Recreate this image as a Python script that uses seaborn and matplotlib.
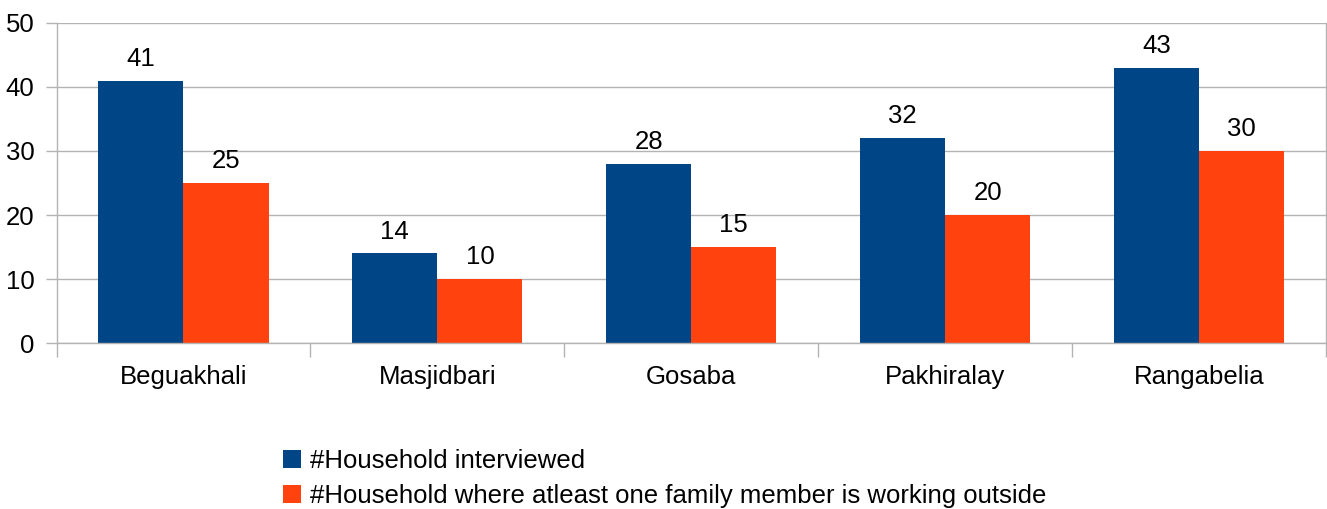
import matplotlib
matplotlib.use("Agg")
import matplotlib.pyplot as plt
import seaborn as sns
import pandas as pd
import numpy as np

categories = ["Beguakhali", "Masjidbari", "Gosaba", "Pakhiralay", "Rangabelia"]
interviewed = [41, 14, 28, 32, 43]
working_outside = [25, 10, 15, 20, 30]
series_names = ["#Household interviewed",
                "#Household where atleast one family member is working outside"]
colors = ["#004586", "#ff420e"]

df = pd.DataFrame({
    "Village": categories * 2,
    "Series": [series_names[0]] * len(categories) + [series_names[1]] * len(categories),
    "Value": interviewed + working_outside,
})

sns.set_theme(style="white")
plt.rcParams["font.family"] = ["Liberation Sans", "DejaVu Sans"]
plt.rcParams["text.color"] = "#000000"
FS = 18.5

fig = plt.figure(figsize=(13.27, 5.09), dpi=100)
ax = fig.add_axes([0.0426, 0.326, 0.9566, 0.629])

sns.barplot(data=df, x="Village", y="Value", hue="Series", palette=colors,
            width=0.67, gap=0, saturation=1, ax=ax, legend=True, linewidth=0)

for c in ax.containers:
    ax.bar_label(c, fmt="%d", padding=7, fontsize=FS, color="#000000")

ax.set_ylim(0, 50)
ax.set_xlim(-0.5, len(categories) - 0.5)
ax.set_yticks(range(0, 51, 10))
ax.yaxis.grid(True, color="#b3b3b3", linewidth=1)
ax.set_axisbelow(True)
ax.set_xlabel("")
ax.set_ylabel("")

ax.spines["top"].set_visible(False)
for s in ["left", "bottom", "right"]:
    ax.spines[s].set_color("#b3b3b3")
    ax.spines[s].set_linewidth(1)

ax.tick_params(axis="y", which="major", length=8, width=1, color="#b3b3b3",
               labelsize=FS, labelcolor="#000000", pad=8, left=True)
ax.tick_params(axis="x", which="major", length=0, labelsize=FS,
               labelcolor="#000000", pad=16)
ax.set_xticks(np.arange(-0.5, len(categories), 1.0), minor=True)
ax.tick_params(axis="x", which="minor", length=10, width=1, color="#b3b3b3",
               bottom=True)

handles, labels = ax.get_legend_handles_labels()
leg = ax.legend(handles, labels, loc="upper left", bbox_to_anchor=(0.170, -0.30),
                frameon=False, fontsize=FS, handlelength=0.7, handleheight=0.7,
                handletextpad=0.35, labelspacing=0.42, borderaxespad=0)
for t in leg.get_texts():
    t.set_color("#000000")

fig.savefig("out.png", dpi=100)
